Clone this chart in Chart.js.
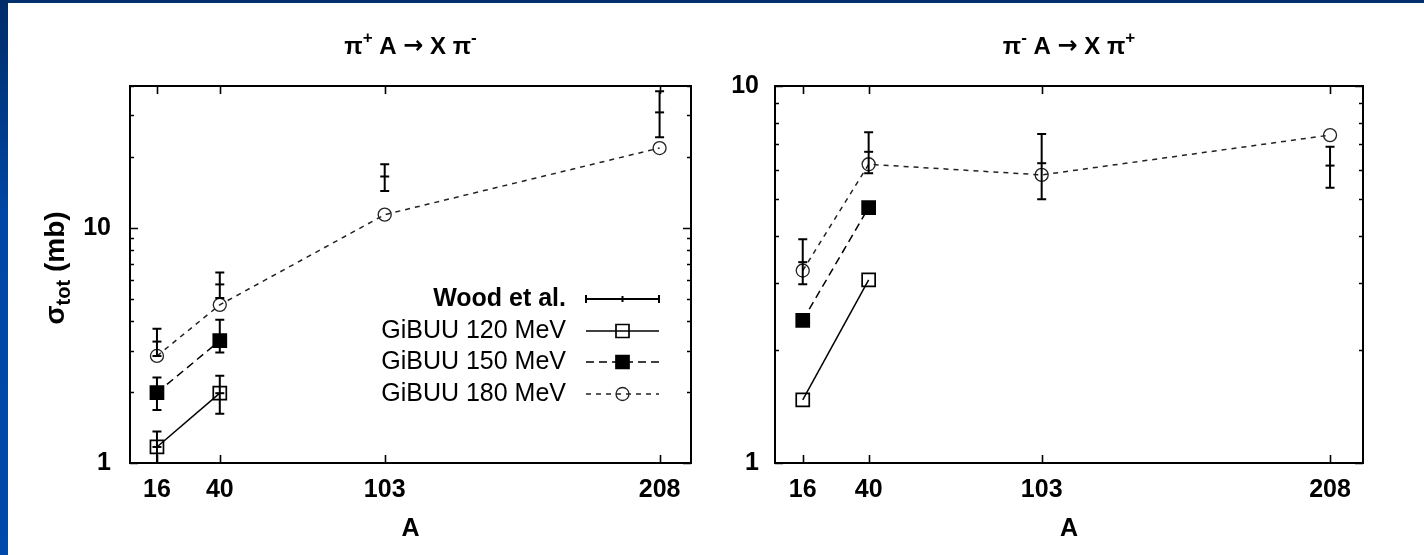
<!DOCTYPE html>
<html>
<head>
<meta charset="utf-8">
<script src="https://cdn.jsdelivr.net/npm/chart.js@4.4.1/dist/chart.umd.min.js"></script>
<style>
  html, body { margin: 0; padding: 0; background: #fff; }
  body { width: 1424px; height: 555px; position: relative; overflow: hidden; }
  .bar-top { position: absolute; left: 0; top: 0; width: 1424px; height: 3px; background: #002f6e; z-index: 2; }
  .bar-left { position: absolute; left: 0; top: 0; width: 8px; height: 555px; z-index: 2;
    background: linear-gradient(#002c68, #0046a4 38%, #004aab); }
  .panel { position: absolute; top: 0; }
  #left { left: 0; }
  #right { left: 712px; }
</style>
</head>
<body>
<div class="bar-top"></div>
<div class="bar-left"></div>
<canvas id="left" class="panel" width="712" height="555"></canvas>
<canvas id="right" class="panel" width="712" height="555"></canvas>
<script>
// tick positions on the A axis
const tickA = [16, 40, 103, 208];
const aShort = [16, 40];
const aAll = [16, 40, 103, 208];

// pi+ A -> X pi-  (left)
const woodA_L   = [16, 16, 16, 40, 40, 40, 103, 208];
const woodSig_L = [1.17, 1.99, 3.28, 1.98, 3.45, 5.74, 16.5, 30.9];
const woodLo_L  = [0.98, 1.68, 2.85, 1.62, 2.95, 5.03, 14.3, 24.2];
const woodHi_L  = [1.36, 2.31, 3.72, 2.35, 4.06, 6.45, 18.6, 38.0];
const gibuu120_L = [1.17, 1.98];
const gibuu150_L = [1.99, 3.31];
const gibuu180_L = [2.85, 4.70, 11.36, 21.8];

// pi- A -> X pi+  (right)
const woodA_R   = [16, 40, 103, 208];
const woodSig_R = [3.41, 6.69, 6.24, 6.15];
const woodLo_R  = [2.98, 5.87, 5.01, 5.37];
const woodHi_R  = [3.92, 7.54, 7.46, 6.90];
const gibuu120_R = [1.47, 3.06];
const gibuu150_R = [2.39, 4.76];
const gibuu180_R = [3.24, 6.20, 5.81, 7.41];

const FONT = '"Liberation Sans", Arial, Helvetica, sans-serif';
const ARROW_FONT = '"DejaVu Sans", sans-serif';
const pts = (xs, ys) => xs.map((x, i) => ({ x, y: ys[i] }));

// series styles (shared by plot and legend)
const styles = {
  wood: { pointStyle: 'line', pointRadius: 4.5, borderWidth: 2, borderColor: '#000' },
  g120: { pointStyle: 'rect', pointRadius: 9.2, borderWidth: 1.7, borderColor: '#000', backgroundColor: 'rgba(0,0,0,0)', dash: [] },
  g150: { pointStyle: 'rect', pointRadius: 9.2, borderWidth: 1.7, borderColor: '#000', backgroundColor: '#000', dash: [8, 5] },
  g180: { pointStyle: 'circle', pointRadius: 6.5, borderWidth: 1.3, borderColor: '#222', backgroundColor: 'rgba(0,0,0,0)', dash: [5, 5] }
};

// parts: [text, 'sup' | 'sub' | '', optional family]
function drawRich(ctx, parts, x, y, size, align) {
  const fontOf = p => 'bold ' + (p[1] ? Math.round(size * 0.72) : size) + 'px ' + (p[2] || FONT);
  let w = 0;
  parts.forEach(p => { ctx.font = fontOf(p); w += ctx.measureText(p[0]).width; });
  let cx = align === 'center' ? x - w / 2 : x;
  ctx.textBaseline = 'middle';
  ctx.textAlign = 'left';
  parts.forEach(p => {
    ctx.font = fontOf(p);
    const dy = p[1] === 'sup' ? -size * 0.38 : p[1] === 'sub' ? size * 0.3 : 0;
    ctx.fillText(p[0], cx, y + dy);
    cx += ctx.measureText(p[0]).width;
  });
}

// frame, inward ticks, panel title, y title
const framePlugin = {
  id: 'frame',
  afterDraw(chart, args, opts) {
    const { ctx, chartArea: a, scales: { x, y } } = chart;
    ctx.save();
    ctx.strokeStyle = '#000';
    ctx.lineWidth = 2;
    ctx.strokeRect(a.left, a.top, a.right - a.left, a.bottom - a.top);
    ctx.lineWidth = 1.6;
    ctx.beginPath();
    tickA.forEach(v => {
      const px = Math.round(x.getPixelForValue(v)) + 0.5;
      ctx.moveTo(px, a.bottom); ctx.lineTo(px, a.bottom - 8);
      ctx.moveTo(px, a.top); ctx.lineTo(px, a.top + 8);
    });
    for (let d = 1; d <= y.max; d *= 10) {
      for (let m = 1; m <= 9; m++) {
        const v = d * m;
        if (v < y.min || v > y.max) continue;
        const len = m === 1 ? 8 : 4;
        const py = Math.round(y.getPixelForValue(v)) + 0.5;
        ctx.moveTo(a.left, py); ctx.lineTo(a.left + len, py);
        ctx.moveTo(a.right, py); ctx.lineTo(a.right - len, py);
      }
    }
    ctx.stroke();
    ctx.fillStyle = '#000';
    drawRich(ctx, opts.title, (a.left + a.right) / 2, 47, 24, 'center');
    if (opts.yTitle) {
      ctx.translate(56, 268);
      ctx.rotate(-Math.PI / 2);
      drawRich(ctx, opts.yTitle, 0, 0, 28, 'center');
    }
    ctx.restore();
  }
};

// vertical error bars for datasets carrying errLo / errHi
const errorBarPlugin = {
  id: 'errorBars',
  afterDatasetsDraw(chart) {
    const { ctx, chartArea: a, scales: { x, y } } = chart;
    ctx.save();
    ctx.beginPath();
    ctx.rect(a.left, a.top, a.right - a.left, a.bottom - a.top);
    ctx.clip();
    ctx.strokeStyle = '#000';
    ctx.lineWidth = 2;
    chart.data.datasets.forEach(ds => {
      if (!ds.errLo) return;
      ds.data.forEach((p, i) => {
        const px = x.getPixelForValue(p.x);
        const lo = y.getPixelForValue(ds.errLo[i]);
        const hi = y.getPixelForValue(ds.errHi[i]);
        ctx.beginPath();
        ctx.moveTo(px, lo); ctx.lineTo(px, hi);
        ctx.moveTo(px - 4.5, lo); ctx.lineTo(px + 4.5, lo);
        ctx.moveTo(px - 4.5, hi); ctx.lineTo(px + 4.5, hi);
        ctx.stroke();
      });
    });
    ctx.restore();
  }
};

// key in the left panel
const keyPlugin = {
  id: 'key',
  afterDraw(chart, args, opts) {
    if (!opts.items) return;
    const { ctx } = chart;
    ctx.save();
    opts.items.forEach((it, i) => {
      const yy = opts.rows[i];
      ctx.fillStyle = '#000';
      ctx.font = (it.bold ? 'bold ' : '') + '25px ' + FONT;
      ctx.textAlign = 'right';
      ctx.textBaseline = 'middle';
      ctx.fillText(it.label, opts.textRight, yy);
      const st = styles[it.style];
      const mid = (opts.x0 + opts.x1) / 2;
      ctx.strokeStyle = st.borderColor;
      if (it.style === 'wood') {
        ctx.lineWidth = 2;
        ctx.beginPath();
        ctx.moveTo(opts.x0, yy); ctx.lineTo(opts.x1, yy);
        ctx.moveTo(opts.x0, yy - 4); ctx.lineTo(opts.x0, yy + 4);
        ctx.moveTo(opts.x1, yy - 4); ctx.lineTo(opts.x1, yy + 4);
        ctx.moveTo(mid, yy - 3); ctx.lineTo(mid, yy + 3);
        ctx.stroke();
      } else {
        ctx.lineWidth = 1.5;
        ctx.setLineDash(st.dash);
        ctx.beginPath();
        ctx.moveTo(opts.x0, yy); ctx.lineTo(opts.x1, yy);
        ctx.stroke();
        ctx.setLineDash([]);
        ctx.lineWidth = st.borderWidth;
        ctx.fillStyle = st.backgroundColor;
        Chart.helpers.drawPoint(ctx, { pointStyle: st.pointStyle, radius: st.pointRadius, borderWidth: st.borderWidth }, mid, yy);
      }
    });
    ctx.restore();
  }
};

function series(label, xs, ys, key) {
  const st = styles[key];
  return {
    label, data: pts(xs, ys), showLine: true,
    borderColor: st.borderColor, borderWidth: 1.5, borderDash: st.dash,
    pointStyle: st.pointStyle, pointRadius: st.pointRadius, pointBorderWidth: st.borderWidth,
    pointBackgroundColor: st.backgroundColor, pointBorderColor: st.borderColor, tension: 0
  };
}

function makePanel(id, p) {
  const tickFont = { family: FONT, size: 25, weight: 'bold' };
  return new Chart(document.getElementById(id), {
    type: 'line',
    data: {
      datasets: [
        series('GiBUU 120 MeV', aShort, p.g120, 'g120'),
        series('GiBUU 150 MeV', aShort, p.g150, 'g150'),
        series('GiBUU 180 MeV', aAll, p.g180, 'g180'),
        {
          label: 'Wood et al.', data: pts(p.woodA, p.woodSig), showLine: false,
          errLo: p.woodLo, errHi: p.woodHi,
          pointStyle: 'line', pointRadius: 4.5, pointBorderWidth: 2, borderColor: '#000', pointBorderColor: '#000'
        }
      ]
    },
    options: {
      responsive: false,
      animation: false,
      events: [],
      layout: { padding: { left: 0, right: p.padRight, top: 86, bottom: 0 } },
      plugins: {
        legend: { display: false },
        tooltip: { enabled: false },
        frame: { title: p.title, yTitle: p.yTitle },
        key: p.key || {}
      },
      scales: {
        x: {
          type: 'linear', min: p.xMin, max: 220,
          afterBuildTicks: s => { s.ticks = tickA.map(v => ({ value: v })); },
          afterFit: s => { s.height = 92; },
          grid: { display: false, drawTicks: false },
          border: { display: false },
          ticks: { font: tickFont, color: '#000', padding: 12, autoSkip: false, maxRotation: 0, callback: v => String(v) },
          title: { display: true, text: 'A', color: '#000', font: tickFont, padding: { top: 11, bottom: 11 } }
        },
        y: {
          type: 'logarithmic', min: 1, max: p.yMax,
          afterBuildTicks: s => { s.ticks = [1, 10].map(v => ({ value: v })); },
          afterFit: s => { s.width = p.yWidth; },
          grid: { display: false, drawTicks: false },
          border: { display: false },
          ticks: { font: tickFont, color: '#000', padding: p.yPad, callback: v => String(v) }
        }
      }
    },
    plugins: [errorBarPlugin, framePlugin, keyPlugin]
  });
}

makePanel('left', {
  woodA: woodA_L, woodSig: woodSig_L, woodLo: woodLo_L, woodHi: woodHi_L,
  g120: gibuu120_L, g150: gibuu150_L, g180: gibuu180_L,
  xMin: 5.7, yMax: 40, yWidth: 130, yPad: 19, padRight: 21,
  title: [['π', ''], ['+', 'sup'], [' A ', ''], ['→', '', ARROW_FONT], [' X π', ''], ['-', 'sup']],
  yTitle: [['σ', ''], ['tot', 'sub'], [' (mb)', '']],
  key: {
    textRight: 566, x0: 586, x1: 659, rows: [299, 331, 362, 394],
    items: [
      { label: 'Wood et al.', style: 'wood', bold: true },
      { label: 'GiBUU 120 MeV', style: 'g120' },
      { label: 'GiBUU 150 MeV', style: 'g150' },
      { label: 'GiBUU 180 MeV', style: 'g180' }
    ]
  }
});

makePanel('right', {
  woodA: woodA_R, woodSig: woodSig_R, woodLo: woodLo_R, woodHi: woodHi_R,
  g120: gibuu120_R, g150: gibuu150_R, g180: gibuu180_R,
  xMin: 5.9, yMax: 10, yWidth: 63, yPad: 16, padRight: 61,
  title: [['π', ''], ['-', 'sup'], [' A ', ''], ['→', '', ARROW_FONT], [' X π', ''], ['+', 'sup']]
});
</script>
</body>
</html>
